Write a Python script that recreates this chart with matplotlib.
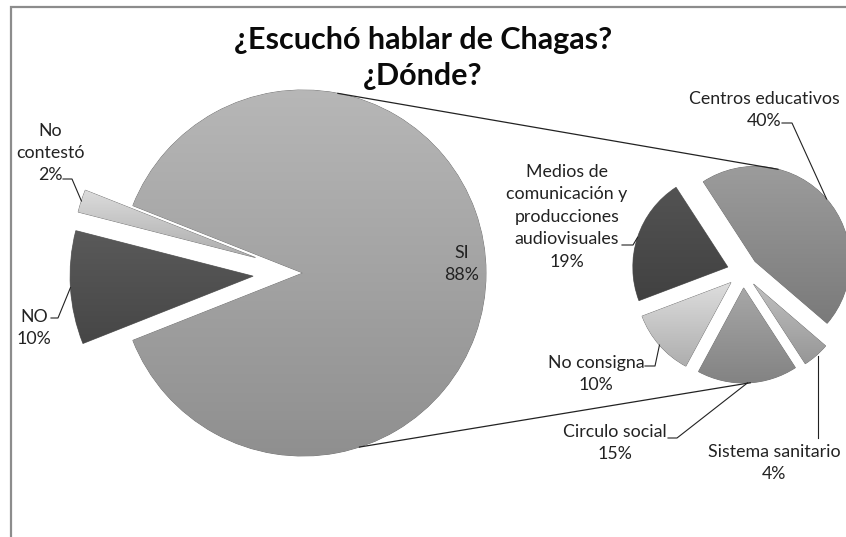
import numpy as np
import matplotlib.pyplot as plt
from matplotlib.colors import to_rgb
from matplotlib.patches import Rectangle

# main pie data
main_labels = ['SI', 'No\ncontestó', 'NO']
main_values = [88, 2, 10]
main_colors = ['#a3a3a3', '#c4c4c4', '#505050']

# secondary pie: breakdown of "SI" (values are % of total)
sec_labels = ['Centros educativos', 'Sistema sanitario', 'Circulo social',
              'No consigna', 'Medios de\ncomunicación y\nproducciones\naudiovisuales']
sec_values = [40, 4, 15, 10, 19]
sec_colors = ['#8b8b8b', '#ababab', '#959595', '#c6c6c6', '#4a4a4a']

title = '¿Escuchó hablar de Chagas?\n¿Dónde?'

W, H = 846, 537


def px(x, y):
    # pixel position (top-left origin) -> data coords
    return x, H - y


def arc_point(w, ang):
    a = np.deg2rad(ang)
    cx, cy = w.center
    return cx + w.r * np.cos(a), cy + w.r * np.sin(a)


def mid_angle(w):
    return (w.theta1 + w.theta2) / 2


def shade(ax, w, color):
    # soft vertical gradient clipped to the wedge, like the excel bevel
    ext = w.get_path().get_extents()
    base = np.array(to_rgb(color))
    t = np.linspace(0, 1, 64)[:, None, None]
    img = np.clip(base * (1.12 - 0.24 * t), 0, 1) * np.ones((1, 2, 3))
    im = ax.imshow(img, extent=[ext.x0, ext.x1, ext.y0, ext.y1], origin='upper',
                   interpolation='bilinear', aspect='auto', zorder=w.get_zorder() + 0.1)
    im.set_clip_path(w)


plt.rcParams['font.family'] = ['Lato', 'DejaVu Sans']
fig = plt.figure(figsize=(W / 100, H / 100), dpi=100)
ax = fig.add_axes([0, 0, 1, 1])

edge = dict(edgecolor='#707070', linewidth=0.6)

main_wedges, _ = ax.pie(main_values, colors=main_colors, startangle=201.6,
                        counterclock=True, explode=[0, 50, 50],
                        radius=183, center=px(303, 273), wedgeprops=edge)
sec_wedges, _ = ax.pie(sec_values, colors=sec_colors, startangle=123,
                       counterclock=False, explode=[16] * 5,
                       radius=95, center=px(743, 272), wedgeprops=edge)

for w, c in zip(main_wedges, main_colors):
    shade(ax, w, c)
for w, c in zip(sec_wedges, sec_colors):
    shade(ax, w, c)

ax.set_xlim(0, W)
ax.set_ylim(0, H)
ax.set_aspect('equal')
ax.axis('off')

# chart border
ax.add_patch(Rectangle(px(11, 560), 900, 553, fill=False,
                       edgecolor='#8c8c8c', linewidth=1.6, clip_on=False))

ax.text(*px(423, 58), title, ha='center', va='center', fontsize=22,
        fontweight='bold', color='#0a0a0a', linespacing=1.35)

# connector lines between the two pies
for a_main, w_sec, a_sec in [(79, sec_wedges[0], 76), (-72, sec_wedges[2], -86)]:
    p1 = arc_point(main_wedges[0], a_main)
    p2 = arc_point(w_sec, a_sec)
    ax.plot([p1[0], p2[0]], [p1[1], p2[1]], color='#222222', lw=0.9, zorder=3)

lab_kw = dict(ha='center', va='center', fontsize=12.8, color='#222222',
              linespacing=1.5, zorder=4)

# labels for main pie
main_text = [f'{l}\n{v}%' for l, v in zip(main_labels, main_values)]
ax.text(*px(462, 264), main_text[0], **lab_kw)
ax.text(*px(50, 153), main_text[1], **lab_kw)
ax.text(*px(34, 328), main_text[2], **lab_kw)

# labels for secondary pie
sec_pos = [(764, 110), (774, 463), (615, 443), (596, 374), (567, 217)]
for l, v, pos in zip(sec_labels, sec_values, sec_pos):
    ax.text(*px(*pos), f'{l}\n{v}%', **lab_kw)

# leader lines: (label anchor, elbow, wedge)
leaders = [
    ((63, 179), (72, 179), main_wedges[1]),
    ((51, 318), (58, 318), main_wedges[2]),
    ((782, 123), (792, 123), sec_wedges[0]),
    ((818, 438), (818, 438), sec_wedges[1]),
    ((668, 438), (677, 438), sec_wedges[2]),
    ((645, 366), (655, 366), sec_wedges[3]),
    ((622, 245), (633, 245), sec_wedges[4]),
]
for a, b, w in leaders:
    p3 = arc_point(w, mid_angle(w))
    xa, ya = px(*a)
    xb, yb = px(*b)
    if w is sec_wedges[1]:
        p3 = (xb, p3[1])
    ax.plot([xa, xb, p3[0]], [ya, yb, p3[1]], color='#222222', lw=0.8, zorder=3)

fig.savefig('out.png', dpi=100)
